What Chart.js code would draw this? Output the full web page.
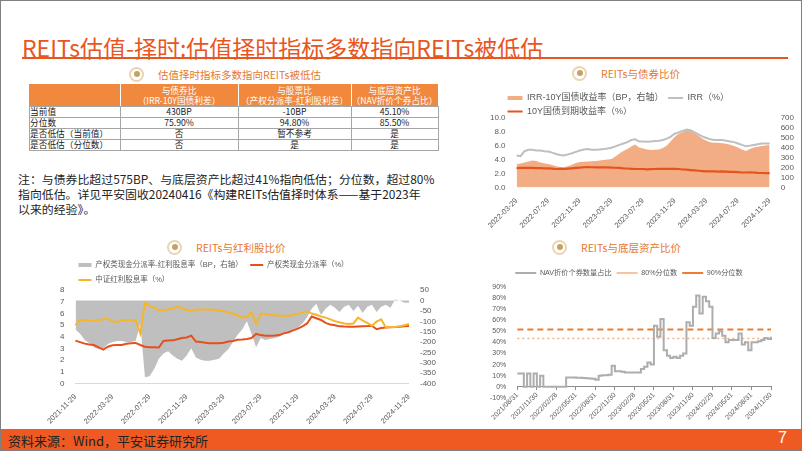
<!DOCTYPE html>
<html>
<head>
<meta charset="utf-8">
<script src="https://cdn.jsdelivr.net/npm/chart.js@4.4.1/dist/chart.umd.min.js"></script>
<style>
  html, body { margin: 0; padding: 0; background: #fff; }
  #page { position: relative; width: 800px; height: 449px; border: 1px solid #808080; overflow: hidden;
          font-family: "Noto Sans CJK SC", "Liberation Sans", sans-serif; }
  .title { position: absolute; left: 21px; top: 29px; font-size: 23px; color: #E8561F; white-space: nowrap; }
  .rule { position: absolute; left: 21px; top: 56px; width: 766px; height: 2px; background: #E8561F; }
  .sec { position: absolute; height: 16px; display: flex; align-items: center; font-size: 10.5px; color: #E5782F; white-space: nowrap; }
  .icon { width: 11px; height: 11px; border-radius: 50%; border: 2px solid #E8D5B4; background: #fff;
          display: flex; align-items: center; justify-content: center; margin-right: 14px; }
  .icon i { display: block; width: 6px; height: 6px; border-radius: 50%; background: #C7A063; }
  #tbl { position: absolute; left: 28px; top: 83px; width: 409px; height: 66px; font-size: 8.7px; color: #222; }
  #tbl div { position: absolute; }
  #tbl .cell { display: flex; flex-direction: column; align-items: center; justify-content: center; line-height: 10px; white-space: nowrap; }
  #tbl .lab { align-items: flex-start; padding-left: 1px; }
  .note { position: absolute; left: 17px; top: 170px; font-size: 11.9px; line-height: 15px; color: #222; white-space: nowrap; }
  canvas { position: absolute; }
  .foot { position: absolute; left: 0; top: 428px; width: 800px; height: 21px; background: #EF5A23; }
  .foot span { position: absolute; left: 7px; top: 2px; font-size: 13px; color: #222; }
  .foot b { position: absolute; right: 14px; top: 0px; font-size: 16px; color: #fff; font-weight: normal; font-family: "Liberation Sans", sans-serif; }
</style>
</head>
<body>
<div id="page">
  <div class="title">REITs估值-择时:估值择时指标多数指向REITs被低估</div>
  <div class="rule"></div>

  <div class="sec" style="left:128px;top:65px;"><div class="icon"><i></i></div>估值择时指标多数指向REITs被低估</div>
  <div id="tbl"></div>
  <div class="note">注：与债券比超过575BP、与底层资产比超过41%指向低估；分位数，超过80%<br>指向低估。详见平安固收20240416《构建REITs估值择时体系——基于2023年<br>以来的经验》。</div>

  <div class="sec" style="left:571px;top:64px;"><div class="icon"><i></i></div>REITs与债券比价</div>
  <div class="sec" style="left:166px;top:238px;"><div class="icon"><i></i></div>REITs与红利股比价</div>
  <div class="sec" style="left:551px;top:238px;"><div class="icon"><i></i></div>REITs与底层资产比价</div>

  <canvas id="bondChart" width="318" height="144" style="left:482px;top:86px;"></canvas>
  <canvas id="divChart" width="400" height="175" style="left:42px;top:251px;"></canvas>
  <canvas id="navChart" width="318" height="166" style="left:482px;top:261px;"></canvas>

  <div class="foot"><span>资料来源：Wind，平安证券研究所</span><b>7</b></div>
</div>

<script>
// ---- table ----
const tableHead = [['', ''], ['与债券比', '（IRR-10Y国债利差）'], ['与股票比', '（产权分派率-红利股利差）'], ['与底层资产比', '（NAV折价个券占比）']];
const tableRows = ['当前值', '分位数', '是否低估（当前值）', '是否低估（分位数）'];
const tableBond = ['430BP', '75.90%', '否', '否'];
const tableStock = ['-10BP', '94.80%', '暂不参考', '是'];
const tableAsset = ['45.10%', '85.50%', '是', '是'];

// ---- REITs vs bonds ----
const bondDates = ['2022-03-29','2022-04-14','2022-04-29','2022-05-14','2022-05-29','2022-06-14','2022-06-29','2022-07-14','2022-07-29','2022-08-14','2022-08-29','2022-09-14','2022-09-29','2022-10-14','2022-10-29','2022-11-14','2022-11-29','2022-12-14','2022-12-29','2023-01-14','2023-01-29','2023-02-14','2023-02-28','2023-03-14','2023-03-29','2023-04-14','2023-04-29','2023-05-14','2023-05-29','2023-06-14','2023-06-29','2023-07-14','2023-07-29','2023-08-14','2023-08-29','2023-09-14','2023-09-29','2023-10-14','2023-10-29','2023-11-14','2023-11-29','2023-12-14','2023-12-29','2024-01-14','2024-01-29','2024-02-14','2024-02-29','2024-03-14','2024-03-29','2024-04-14','2024-04-29','2024-05-14','2024-05-29','2024-06-14','2024-06-29','2024-07-14','2024-07-29','2024-08-14','2024-08-29','2024-09-14','2024-09-29','2024-10-14','2024-10-29','2024-11-14','2024-11-29'];
const bondTicks = ['2022-03-29','2022-07-29','2022-11-29','2023-03-29','2023-07-29','2023-11-29','2024-03-29','2024-07-29','2024-11-29'];
const spreadBP = [233,240,250,262,272,265,252,243,236,225,212,206,205,212,228,245,255,258,262,264,266,270,275,280,285,310,340,365,385,410,432,400,390,380,375,378,382,395,420,465,510,540,555,575,570,545,520,490,470,455,450,448,445,440,430,415,400,380,365,385,400,408,415,420,430];
const irr = [4.6,4.5,5.2,5.4,5.4,5.3,5.3,5.2,5.15,5.0,4.8,4.65,4.6,4.75,4.9,5.1,5.3,5.45,5.5,5.4,5.4,5.45,5.5,5.6,5.7,5.9,6.1,6.3,6.5,6.8,6.9,6.6,6.6,6.55,6.6,6.65,6.7,6.8,7.0,7.3,7.7,7.9,8.1,8.3,8.2,7.9,7.6,7.3,7.1,6.9,6.8,6.8,6.8,6.7,6.6,6.5,6.3,6.1,5.9,6.0,6.1,6.2,6.3,6.3,6.3];
const cgb10y = [2.78,2.8,2.82,2.8,2.8,2.78,2.78,2.75,2.75,2.7,2.65,2.68,2.65,2.7,2.75,2.8,2.85,2.9,2.92,2.9,2.88,2.88,2.9,2.88,2.86,2.83,2.8,2.75,2.72,2.68,2.65,2.65,2.65,2.6,2.62,2.65,2.68,2.67,2.66,2.67,2.68,2.65,2.58,2.55,2.5,2.45,2.4,2.35,2.3,2.3,2.3,2.28,2.3,2.28,2.25,2.25,2.2,2.15,2.15,2.18,2.15,2.1,2.08,2.05,2.05];

// ---- REITs vs dividend stocks ----
const dividendDates = ['2021-11-29','2021-12-14','2021-12-29','2022-01-14','2022-01-29','2022-02-14','2022-02-28','2022-03-14'].concat(bondDates);
const dividendTicks = ['2021-11-29','2022-03-29','2022-07-29','2022-11-29','2023-03-29','2023-07-29','2023-11-29','2024-03-29','2024-07-29','2024-11-29'];
const distSpreadBP = [-140,-160,-190,-205,-225,-235,-230,-210,-200,-195,-195,-200,-200,-195,-110,-370,-365,-330,-280,-255,-245,-265,-280,-290,-265,-230,-275,-285,-290,-290,-285,-280,-255,-235,-200,-165,-140,-100,-160,-225,-180,-190,-185,-180,-175,-160,-150,-140,-130,-110,-80,-40,-15,-70,-40,-20,-35,-55,-30,-20,-50,-25,-60,-30,-20,-55,-30,-20,-35,5,0,-10,-10];
const reitDistRate = [3.68,3.55,3.42,3.35,3.3,3.1,2.9,3.15,3.28,3.3,3.3,3.4,3.45,3.48,3.3,3.15,3.1,3.1,3.08,3.65,3.68,3.7,3.8,3.9,3.95,4.1,3.6,3.55,3.5,3.45,3.45,3.45,3.5,3.6,3.65,3.75,3.78,3.82,3.9,4.25,4.15,4.1,4.1,4.12,4.15,4.3,4.4,4.55,4.7,4.9,5.15,5.75,5.6,5.45,5.2,5.05,5.0,4.9,4.88,4.87,4.86,4.88,4.9,4.92,4.95,4.65,4.75,4.8,4.82,4.85,4.87,4.9,4.93];
const csiDivYield = [5.0,5.45,5.45,5.35,5.4,5.45,5.5,5.55,5.35,5.25,5.45,5.45,5.45,5.4,4.3,6.9,6.65,6.5,6.3,6.25,6.35,6.45,6.6,6.45,6.3,6.2,6.35,6.35,6.35,6.35,6.3,6.25,6.2,6.1,6.0,5.85,5.65,5.7,6.1,5.1,5.95,5.95,5.9,5.85,5.8,5.8,5.8,5.9,5.95,6.1,6.2,6.0,5.9,5.75,5.65,5.5,5.35,5.25,5.15,5.1,5.15,5.65,5.4,5.2,4.95,5.3,5.5,4.8,4.85,4.85,4.9,5.0,5.1];

// ---- REITs vs underlying assets ----
const navDates = ['2021/08/31','2021/09/15','2021/09/30','2021/10/15','2021/10/31','2021/11/15','2021/11/30','2021/12/15','2021/12/31','2022/01/15','2022/01/31','2022/02/15','2022/02/28','2022/03/15','2022/03/31','2022/04/15','2022/04/30','2022/05/15','2022/05/31','2022/06/15','2022/06/30','2022/07/15','2022/07/31','2022/08/15','2022/08/31','2022/09/15','2022/09/30','2022/10/15','2022/10/31','2022/11/15','2022/11/30','2022/12/15','2022/12/31','2023/01/15','2023/01/31','2023/02/15','2023/02/28','2023/03/15','2023/03/31','2023/04/15','2023/04/30','2023/05/15','2023/05/31','2023/06/15','2023/06/30','2023/07/15','2023/07/31','2023/08/15','2023/08/31','2023/09/15','2023/09/30','2023/10/15','2023/10/31','2023/11/15','2023/11/30','2023/12/15','2023/12/31','2024/01/15','2024/01/31','2024/02/15','2024/02/29','2024/03/15','2024/03/31','2024/04/15','2024/04/30','2024/05/15','2024/05/31','2024/06/15','2024/06/30','2024/07/15','2024/07/31','2024/08/15','2024/08/31','2024/09/15','2024/09/30','2024/10/15','2024/10/31','2024/11/15','2024/11/30'];
const navTicks = ['2021/08/31','2021/11/30','2022/02/28','2022/05/31','2022/08/31','2022/11/30','2023/02/28','2023/05/31','2023/08/31','2023/11/30','2024/02/29','2024/05/31','2024/08/31','2024/11/30'];
const navDiscountShare = [12,12,0,12,0,12,0,10,0,0,0,0,0,0,0,8.5,8.5,8.5,8.3,8.2,8.0,7.8,7.5,7.2,6.5,10,10.5,10.5,11,19,14,14,13.5,13,13,13,13,13,16,18,22,20,55,45,61,33,28,26,27,26,28,30,58,55,72,82,66,81,77,72,44,48,50,46,40,42,42,42,48,38,40,33,40,40,41,42,44,43,45.1];
const navP80 = 43.4;
const navP90 = 51.6;

// build table from absolutely placed cells
(function () {
  const tbl = document.getElementById('tbl');
  const colX = [0, 91, 209, 322, 409];
  const rowY = [0, 22, 33, 44, 55, 66];
  let html = '<div style="left:0;top:0;width:409px;height:22px;background:#F0883E"></div>';
  for (let c = 1; c < 4; c++) {
    html += '<div style="left:' + colX[c] + 'px;top:0;width:1px;height:22px;background:#fff"></div>';
    html += '<div class="cell" style="left:' + colX[c] + 'px;top:1px;width:' + (colX[c + 1] - colX[c]) + 'px;height:21px;color:#fff">' +
            '<span>' + tableHead[c][0] + '</span><span>' + tableHead[c][1] + '</span></div>';
  }
  for (let r = 1; r < rowY.length; r++) {
    html += '<div style="left:0;top:' + rowY[r] + 'px;width:410px;height:1px;background:#A6A6A6"></div>';
  }
  colX.forEach(x => { html += '<div style="left:' + x + 'px;top:22px;width:1px;height:44px;background:#A6A6A6"></div>'; });
  tableRows.forEach((label, i) => {
    const cells = [label, tableBond[i], tableStock[i], tableAsset[i]];
    cells.forEach((txt, c) => {
      html += '<div class="cell' + (c === 0 ? ' lab' : '') + '" style="left:' + colX[c] + 'px;top:' + (rowY[i + 1] + 1) +
              'px;width:' + (colX[c + 1] - colX[c]) + 'px;height:10px">' + txt + '</div>';
    });
  });
  tbl.innerHTML = html;
})();

Chart.defaults.font.family = "'Liberation Sans','Noto Sans CJK SC',sans-serif";
Chart.defaults.font.size = 8;
Chart.defaults.color = '#595959';
Chart.defaults.animation = false;
Chart.defaults.responsive = false;
Chart.defaults.devicePixelRatio = 1;
Chart.defaults.elements.point.radius = 0;
Chart.defaults.elements.line.tension = 0;

// nudge a non-full-width legend sideways after layout
const legendShift = {
  id: 'legendShift',
  afterLayout(chart, args, opts) {
    if (chart.legend && opts.dx) { chart.legend.left += opts.dx; chart.legend.right += opts.dx; }
  }
};

function onlyTicks(list) {
  return axis => { axis.ticks = axis.ticks.filter(t => list.includes(axis.getLabelForValue(t.value))); };
}

function dateAxis(list) {
  return {
    grid: { display: false },
    border: { display: false },
    afterBuildTicks: onlyTicks(list),
    ticks: { autoSkip: false, maxRotation: 45, minRotation: 45, padding: 1, font: { size: 7.5 } }
  };
}

function valueAxis(pos, min, max, step, cb, size) {
  return {
    position: pos, min: min, max: max,
    grid: { display: false }, border: { display: false },
    ticks: { stepSize: step, autoSkip: false, callback: cb, font: { size: size || 8 } }
  };
}

function legendOpts(align, size, pad, boxW, maxH, full) {
  return {
    position: 'top', align: align, fullSize: full, maxHeight: maxH,
    labels: {
      usePointStyle: true, pointStyleWidth: boxW, boxHeight: 4, padding: pad,
      font: { size: size }, color: '#595959',
      sort: (a, b) => a.datasetIndex - b.datasetIndex
    }
  };
}

new Chart(document.getElementById('bondChart'), {
  type: 'line',
  data: {
    labels: bondDates,
    datasets: [
      { label: 'IRR-10Y国债收益率（BP，右轴）', data: spreadBP, yAxisID: 'y1', fill: 'origin',
        backgroundColor: '#F2AD85', borderColor: '#F2AD85', borderWidth: 0, pointStyle: 'rect', order: 3 },
      { label: 'IRR（%）', data: irr, yAxisID: 'y', borderColor: '#BFBFBF', backgroundColor: '#BFBFBF',
        borderWidth: 2, pointStyle: 'line', order: 2 },
      { label: '10Y国债到期收益率（%）', data: cgb10y, yAxisID: 'y', borderColor: '#E5531E', backgroundColor: '#E5531E',
        borderWidth: 2.2, pointStyle: 'line', order: 1 }
    ]
  },
  plugins: [legendShift],
  options: {
    layout: { padding: { left: 4, right: 4, top: 2 } },
    plugins: {
      legend: legendOpts('start', 9, 4.5, 15, 28.7, false),
      legendShift: { dx: -13.5 },
      tooltip: { enabled: false }
    },
    scales: {
      x: dateAxis(bondTicks),
      y: valueAxis('left', 0, 10, 2, v => v.toFixed(1)),
      y1: valueAxis('right', 0, 700, 100)
    }
  }
});

new Chart(document.getElementById('divChart'), {
  type: 'line',
  data: {
    labels: dividendDates,
    datasets: [
      { label: '产权类现金分派率-红利股息率（BP，右轴）', data: distSpreadBP, yAxisID: 'y1', fill: 'origin',
        backgroundColor: '#BFBFBF', borderColor: '#BFBFBF', borderWidth: 0, pointStyle: 'rect', order: 3 },
      { label: '产权类现金分派率（%）', data: reitDistRate, yAxisID: 'y', borderColor: '#E5501E', backgroundColor: '#E5501E',
        borderWidth: 2, pointStyle: 'line', order: 2 },
      { label: '中证红利股息率（%）', data: csiDivYield, yAxisID: 'y', borderColor: '#F5B52C', backgroundColor: '#F5B52C',
        borderWidth: 2, pointStyle: 'line', order: 1 }
    ]
  },
  plugins: [legendShift],
  options: {
    layout: { padding: { left: 14, right: 4, top: 1.75 } },
    plugins: {
      legend: legendOpts('start', 7.5, 7.5, 13, 36.45, false),
      legendShift: { dx: -4.5 },
      tooltip: { enabled: false }
    },
    scales: {
      x: Object.assign(dateAxis(dividendTicks), { border: { display: true, color: '#D9D9D9' } }),
      y: valueAxis('left', 0, 8, 1),
      y1: valueAxis('right', -400, 50, 50)
    }
  }
});

new Chart(document.getElementById('navChart'), {
  type: 'line',
  data: {
    labels: navDates,
    datasets: [
      { label: 'NAV折价个券数量占比', data: navDiscountShare, borderColor: '#ADADAD', backgroundColor: '#ADADAD',
        borderWidth: 2, stepped: true, pointStyle: 'line' },
      { label: '80%分位数', data: [{ x: navDates[0], y: navP80 }, { x: navDates[navDates.length - 1], y: navP80 }],
        borderColor: '#F4B183', backgroundColor: '#F4B183', borderWidth: 1.5, borderDash: [2, 3], pointStyle: 'line' },
      { label: '90%分位数', data: [{ x: navDates[0], y: navP90 }, { x: navDates[navDates.length - 1], y: navP90 }],
        borderColor: '#ED7D31', backgroundColor: '#ED7D31', borderWidth: 2, borderDash: [6, 4], pointStyle: 'line' }
    ]
  },
  options: {
    layout: { padding: { left: 4, right: 30, top: 2.5, bottom: 30 } },
    plugins: { legend: legendOpts('center', 7.2, 5, 21, undefined, true), tooltip: { enabled: false } },
    scales: {
      x: {
        position: { y: 0 },
        grid: { display: true, drawOnChartArea: false, tickLength: 3, color: '#8C8C8C' },
        border: { display: true, color: '#8C8C8C' },
        afterBuildTicks: onlyTicks(navTicks),
        ticks: { autoSkip: false, maxRotation: 45, minRotation: 45, padding: 1, font: { size: 7 } }
      },
      y: valueAxis('left', -10, 90, 10, v => v + '%', 7)
    }
  }
});
</script>
</body>
</html>
